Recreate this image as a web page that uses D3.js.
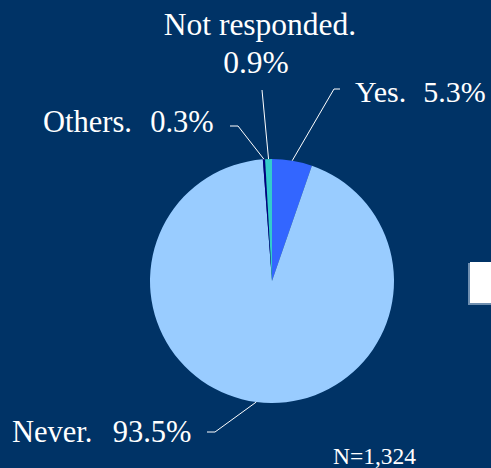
<!DOCTYPE html>
<html>
<head>
<meta charset="utf-8">
<script src="https://cdn.jsdelivr.net/npm/d3@7"></script>
<style>
  html, body { margin: 0; padding: 0; background: #003366; }
  svg { display: block; }
  text { font-family: "Liberation Serif", "Times New Roman", Times, serif; }
</style>
</head>
<body>
<svg id="chart" width="491" height="468"></svg>
<script>
// Slices, clockwise from 12 o'clock
const categories = ["Yes", "Never", "Others", "Not responded"];
const percents = [5.3, 93.5, 0.3, 0.9];
const sampleSize = "N=1,324";

const COLORS = ["#3366ff", "#99ccff", "#000080", "#33cccc"];

const W = 491, H = 468;
const cx = 272, cy = 281, R = 122;

const svg = d3.select("#chart");
svg.append("rect").attr("width", W).attr("height", H).attr("fill", "#003366");

const pie = d3.pie().sort(null).value((d) => d.value);
const arc = d3.arc().innerRadius(0).outerRadius(R);
const data = pie(categories.map((c, i) => ({ name: c, value: percents[i] })));

const g = svg.append("g").attr("transform", `translate(${cx},${cy})`);
g.selectAll("path")
  .data(data)
  .join("path")
  .attr("d", arc)
  .attr("fill", (d, i) => COLORS[i]);

// label layout: elbow points (relative to center) + text position
const LABELS = {
  "Yes": { elbow: [[62, -192], [68, -192]], text: [83, -179], size: 30, gap: 2 },
  "Never": { elbow: [[-57, 151], [-65, 151]], text: [-260, 161], size: 30.5, gap: 5 },
  "Others": { elbow: [[-34, -155], [-42, -155]], text: [-229, -149], size: 30.5, gap: 3 },
  "Not responded": { elbow: [[-10, -191]], text: [-12, -246], size: 31.5, twoLine: true },
};

const fmt = (v) => v.toFixed(1) + "%";

data.forEach((d) => {
  const name = d.data.name;
  const cfg = LABELS[name];
  const mid = (d.startAngle + d.endAngle) / 2;
  const p0 = [R * Math.sin(mid), -R * Math.cos(mid)];
  g.append("path")
    .attr("d", d3.line()([p0, ...cfg.elbow]))
    .attr("fill", "none")
    .attr("stroke", "#ffffff")
    .attr("stroke-width", 1);

  const t = g.append("text")
    .attr("x", cfg.text[0])
    .attr("y", cfg.text[1])
    .attr("fill", "#ffffff")
    .attr("font-size", cfg.size);
  if (cfg.twoLine) {
    t.attr("text-anchor", "middle");
    t.append("tspan").attr("x", cfg.text[0]).text(name + ".");
    t.append("tspan").attr("x", cfg.text[0] - 4).attr("dy", 38).text(fmt(d.data.value));
  } else {
    t.append("tspan").text(`${name}.\u00a0 `);
    t.append("tspan").attr("dx", cfg.gap).text(fmt(d.data.value));
  }
});

// sample size
svg.append("text")
  .attr("x", 333)
  .attr("y", 464)
  .attr("fill", "#ffffff")
  .attr("font-size", 23.5)
  .text(sampleSize);

// white box at the right edge
svg.append("rect")
  .attr("x", 468).attr("y", 263).attr("width", 23).attr("height", 42)
  .attr("fill", "#6f8fb0");
svg.append("rect")
  .attr("x", 470).attr("y", 262).attr("width", 21).attr("height", 41)
  .attr("fill", "#ffffff");
</script>
</body>
</html>
